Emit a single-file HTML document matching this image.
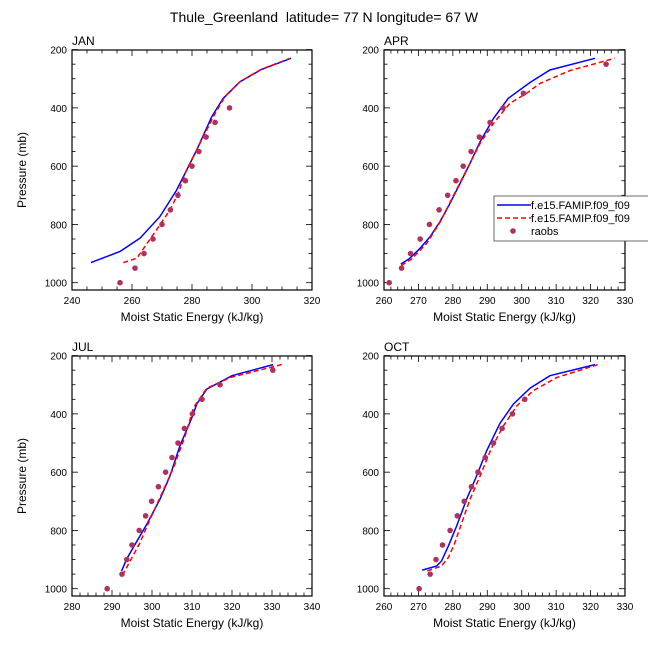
<!DOCTYPE html>
<html><head><meta charset="utf-8"><style>
body{margin:0;background:#fff;}
svg{display:block;font-family:"Liberation Sans",Arial,sans-serif;}
</style></head><body>
<svg id="chart" width="648" height="648" viewBox="0 0 648 648" xmlns="http://www.w3.org/2000/svg">
<text x="324" y="22" font-size="14" text-anchor="middle">Thule_Greenland &#160;latitude= 77 N longitude= 67 W</text>
</svg>
<script>
// Observation pressure levels (mb)
const obsP = [1000,950,900,850,800,750,700,650,600,550,500,450,400,350,300,250];
// Raobs MSE per panel (kJ/kg), aligned to obsP (null = missing)
const janObs = [256,261,264,267,270,272.8,275.3,277.8,280,282.3,284.7,287.7,292.5,null,null,null];
const aprObs = [261.5,265.1,267.7,270.5,273.2,276,278.5,280.9,283,285.3,287.7,290.8,294.6,300.5,null,324.5];
const julObs = [288.8,292.5,293.7,295,296.8,298.4,299.9,301.6,303.4,305,306.5,308.1,310.1,312.5,317,330.2];
const octObs = [270.2,273.4,275.1,277,279.2,281.3,283.3,285.4,287.3,289.4,291.8,294.3,297.3,300.9,null,null];
// Model series: pressure and MSE arrays
const janBlueP = [931,893,847,773,682,544,430,367,310,268,230];
const janBlueX = [246.3,256,262.7,269.3,274.9,281.6,286.6,290.4,296,303.2,313];
const janRedP = [931,916,842,750,693,613,533,476,419,361,310,268,230];
const janRedX = [257.1,261.6,266.6,272.7,275.4,278.2,282.1,284.9,287.7,291,296,303,312.7];
const aprBlueP = [936,917,882,842,790,727,659,590,516,436,367,313,270,230];
const aprBlueX = [264.9,267.4,270.5,273.4,276.3,279.2,282.1,285,287.9,291.8,296.1,302.4,308.2,321.3];
const aprRedP = [941,919,865,792,659,520,453,384,350,316,272,230];
const aprRedX = [265,268,272.4,276.3,282,288,291.8,296.6,301.4,305.3,314,327];
const julBlueP = [939,897,847,779,693,613,509,412,366,315,269,231];
const julBlueX = [292.4,293.7,295.8,298.7,302,304.5,307,310,311.2,313.7,320,330.3];
const julRedP = [954,842,762,687,584,475,378,312,275,229];
const julRedX = [292.6,297,299.5,302,305.4,308.3,310.4,313.7,319.6,333];
const octBlueP = [936,922,905,853,785,693,613,527,432,366,312,269,231];
const octBlueX = [271.1,275.3,276.7,278.7,281.1,284,286.9,289.8,293.7,297.6,302.4,308.2,321.3];
const octRedP = [939,922,893,842,773,693,613,515,441,372,320,275,229];
const octRedX = [272.6,276.7,278.7,280.6,282.6,285,287.9,291.3,294.7,298.6,303.4,310.2,322.7];
// Axis tick labels
const yTicks = [200,400,600,800,1000];
const janXTicks = [240,260,280,300,320];
const aprXTicks = [260,270,280,290,300,310,320,330];
const julXTicks = [280,290,300,310,320,330,340];
const octXTicks = [260,270,280,290,300,310,320,330];
const panelNames = ["JAN","APR","JUL","OCT"];

const NS="http://www.w3.org/2000/svg";
const svg=document.getElementById('chart');
function mk(tag,attrs,parent){const e=document.createElementNS(NS,tag);for(const k in attrs)e.setAttribute(k,attrs[k]);(parent||svg).appendChild(e);return e;}

const panels=[
 {name:"JAN",x0:72,x1:312,y0:42,xmin:240,xmax:320,ticks:janXTicks,minor:5,obs:janObs,bp:janBlueP,bx:janBlueX,rp:janRedP,rx:janRedX,ylab:true},
 {name:"APR",x0:384,x1:625,y0:42,xmin:260,xmax:330,ticks:aprXTicks,minor:2,obs:aprObs,bp:aprBlueP,bx:aprBlueX,rp:aprRedP,rx:aprRedX,ylab:false},
 {name:"JUL",x0:72,x1:312,y0:348,xmin:280,xmax:340,ticks:julXTicks,minor:2,obs:julObs,bp:julBlueP,bx:julBlueX,rp:julRedP,rx:julRedX,ylab:true},
 {name:"OCT",x0:384,x1:625,y0:348,xmin:260,xmax:330,ticks:octXTicks,minor:2,obs:octObs,bp:octBlueP,bx:octBlueX,rp:octRedP,rx:octRedX,ylab:false}
];
panels.forEach(pn=>{
  const g=mk('g',{});
  
  
  const yTop=pn.y0+8, yBot=pn.y0+248;
  const py=p=>pn.y0+7.6+(p-200)*(233.1/800);
  const px=v=>pn.x0+(v-pn.xmin)*(pn.x1-pn.x0)/(pn.xmax-pn.xmin);
  const frame=mk('rect',{x:pn.x0,y:yTop,width:pn.x1-pn.x0,height:yBot-yTop,fill:'none',stroke:'#000','stroke-width':1.2},g);
  
  
  const t=mk('text',{x:pn.x0,y:pn.y0+3,'font-size':12},g);t.textContent=pn.name;
  
  
  for(let p=200;p<=1000;p+=50){
    const y=py(p), major=(p%200===0), L=major?6:3.5;
    mk('line',{x1:pn.x0,x2:pn.x0+L,y1:y,y2:y,stroke:'#000','stroke-width':0.8},g);
    mk('line',{x1:pn.x1,x2:pn.x1-L,y1:y,y2:y,stroke:'#000','stroke-width':0.8},g);
  }
  yTicks.forEach(p=>{
    const tl=mk('text',{x:pn.x0-5,y:py(p)+4,'font-size':10,'text-anchor':'end'},g);tl.textContent=p;
    
    
  });
  for(let v=pn.xmin;v<=pn.xmax+1e-9;v+=pn.minor){
    const x=px(v), major=pn.ticks.includes(v), L=major?6:3.5;
    mk('line',{x1:x,x2:x,y1:yTop,y2:yTop+L,stroke:'#000','stroke-width':0.8},g);
    mk('line',{x1:x,x2:x,y1:yBot,y2:yBot-L,stroke:'#000','stroke-width':0.8},g);
  }
  pn.ticks.forEach(v=>{
    const tl=mk('text',{x:px(v),y:yBot+14,'font-size':10,'text-anchor':'middle'},g);tl.textContent=v;
    
    
  });
  const xt=mk('text',{x:(pn.x0+pn.x1)/2,y:yBot+31,'font-size':12,'text-anchor':'middle'},g);
  xt.textContent='Moist Static Energy (kJ/kg)';
  
  
  if(pn.ylab){
    const cy=(yTop+yBot)/2;
    const yt=mk('text',{x:26,y:cy,'font-size':12,'text-anchor':'middle',transform:`rotate(-90 26 ${cy})`},g);
    yt.textContent='Pressure (mb)';
    
    
  }
  const pts=(xs,ps)=>xs.map((v,i)=>px(v).toFixed(1)+','+py(ps[i]).toFixed(1)).join(' ');
  const bl=mk('polyline',{points:pts(pn.bx,pn.bp),fill:'none',stroke:'#0000ff','stroke-width':1.5},g);
  
  
  const rl=mk('polyline',{points:pts(pn.rx,pn.rp),fill:'none',stroke:'#ff0000','stroke-width':1.5,'stroke-dasharray':'5,3'},g);
  
  
  pn.obs.forEach((v,i)=>{
    if(v===null)return;
    const c=mk('circle',{cx:px(v),cy:py(obsP[i]),r:2.8,fill:'#b03060'},g);
    
    
  });
});
const lg=mk('g',{});


mk('rect',{x:494,y:196,width:160,height:45,fill:'#fff',stroke:'#444','stroke-width':0.8},lg);
mk('line',{x1:497,x2:531,y1:205,y2:205,stroke:'#0000ff','stroke-width':1.5},lg);
mk('line',{x1:497,x2:531,y1:218,y2:218,stroke:'#ff0000','stroke-width':1.5,'stroke-dasharray':'5,3'},lg);
mk('circle',{cx:513,cy:231,r:2.8,fill:'#b03060'},lg);
const e1=mk('text',{x:531,y:209,'font-size':11},lg);e1.textContent='f.e15.FAMIP.f09_f09';


const e2=mk('text',{x:531,y:222,'font-size':11},lg);e2.textContent='f.e15.FAMIP.f09_f09';


const e3=mk('text',{x:531,y:235,'font-size':11},lg);e3.textContent='raobs';


</script>
</body></html>
